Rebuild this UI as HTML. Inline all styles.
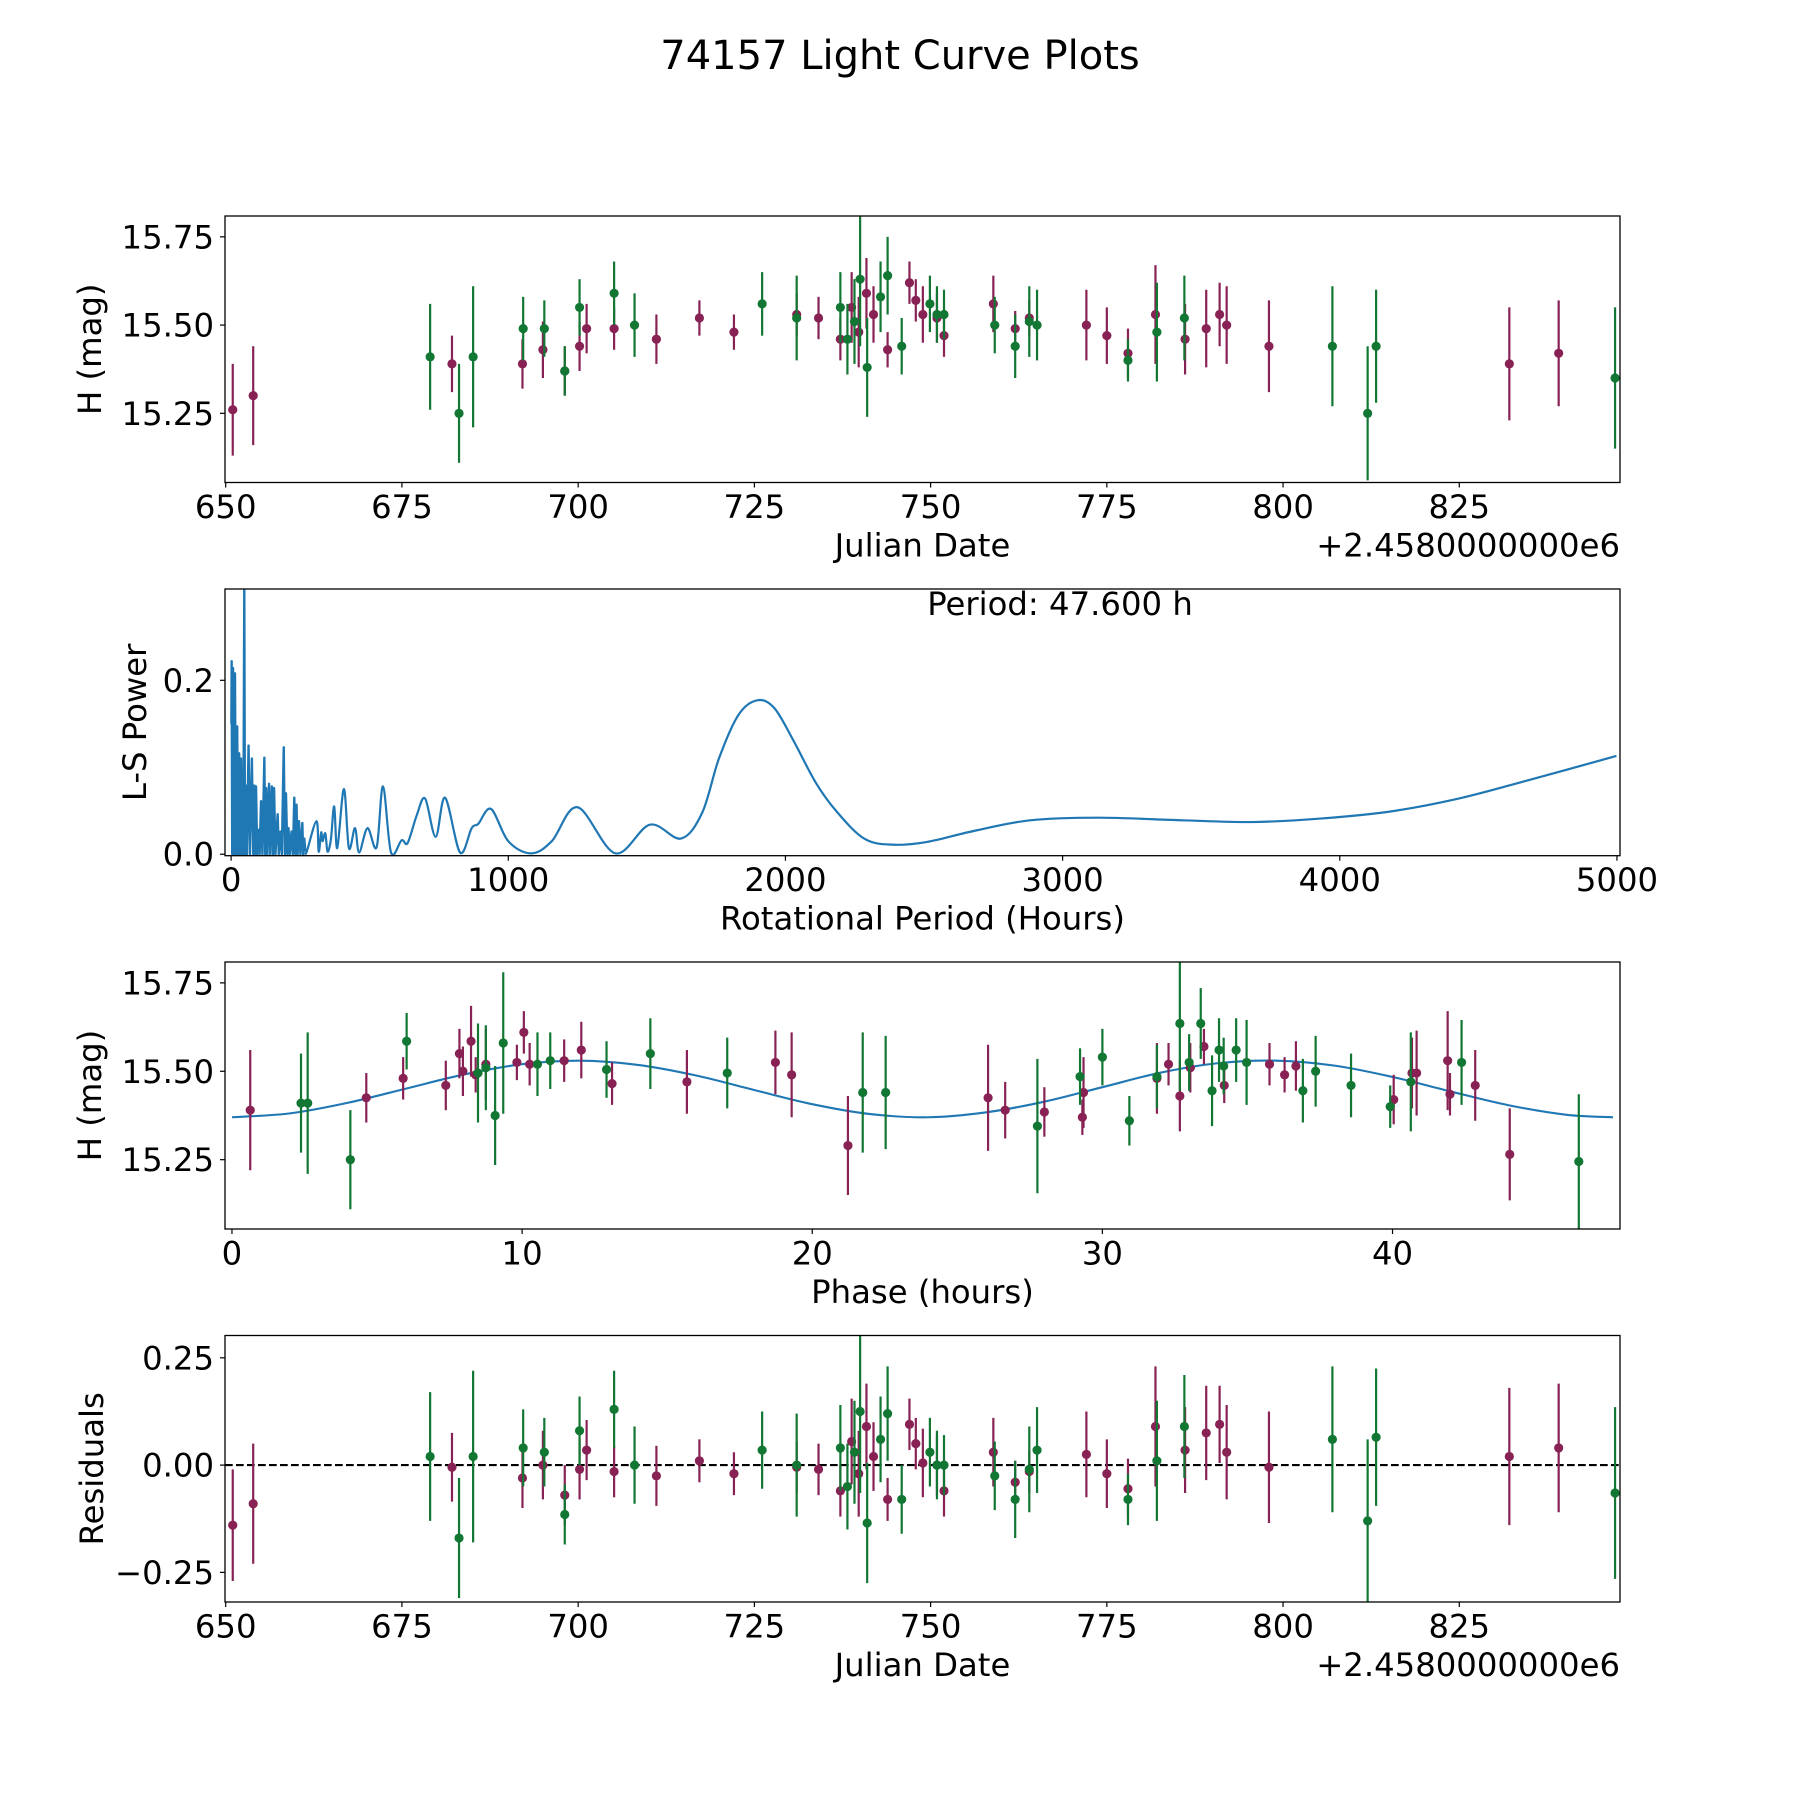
<!DOCTYPE html>
<html><head><meta charset="utf-8"><title>74157 Light Curve Plots</title>
<style>html,body{margin:0;padding:0;background:#fff}svg{display:block}text{font-family:"DejaVu Sans","Liberation Sans",sans-serif;fill:#000}</style>
</head><body>
<svg id="fig" xmlns="http://www.w3.org/2000/svg" width="1800" height="1800" viewBox="0 0 1800 1800">
<rect x="0" y="0" width="1800" height="1800" fill="#fff"/>
<text x="900" y="69" font-size="40" text-anchor="middle">74157 Light Curve Plots</text>
</svg>
<script>
// ---- light curve data (Julian date offset from 2458000) ----
const mDates=[651.0,653.9,682.1,692.1,695.0,698.1,700.2,701.2,705.1,711.1,717.2,722.1,731.0,734.1,737.2,738.8,739.8,740.9,741.9,743.9,747.0,747.9,748.9,750.9,751.9,758.9,762.0,764.0,772.1,775.0,778.0,781.9,786.1,789.1,791.0,792.0,798.0,832.1,839.1];
const mMag=[15.26,15.30,15.39,15.39,15.43,15.37,15.44,15.49,15.49,15.46,15.52,15.48,15.53,15.52,15.46,15.55,15.48,15.59,15.53,15.43,15.62,15.57,15.53,15.52,15.47,15.56,15.49,15.52,15.50,15.47,15.42,15.53,15.46,15.49,15.53,15.50,15.44,15.39,15.42];
const mErr=[0.13,0.14,0.08,0.07,0.08,0.07,0.07,0.07,0.06,0.07,0.05,0.05,0.06,0.06,0.06,0.10,0.10,0.10,0.08,0.05,0.06,0.06,0.08,0.07,0.06,0.08,0.05,0.05,0.10,0.08,0.07,0.14,0.10,0.11,0.09,0.11,0.13,0.16,0.15];
const mResid=[-0.14,-0.09,-0.005,-0.03,0.0,-0.07,-0.01,0.035,-0.015,-0.025,0.01,-0.02,-0.005,-0.01,-0.06,0.055,-0.02,0.09,0.02,-0.08,0.095,0.05,0.005,0.0,-0.06,0.03,-0.04,-0.015,0.025,-0.02,-0.055,0.09,0.035,0.075,0.095,0.03,-0.005,0.02,0.04];
const gDates=[679.0,683.1,685.1,692.2,695.2,698.1,700.2,705.1,708.0,726.1,731.0,737.2,738.2,739.2,740.0,741.0,742.9,743.9,745.9,749.9,750.9,751.9,759.1,762.0,764.0,765.1,778.0,782.1,786.0,807.0,812.0,813.2,847.1];
const gMag=[15.41,15.25,15.41,15.49,15.49,15.37,15.55,15.59,15.50,15.56,15.52,15.55,15.46,15.51,15.63,15.38,15.58,15.64,15.44,15.56,15.53,15.53,15.50,15.44,15.51,15.50,15.40,15.48,15.52,15.44,15.25,15.44,15.35];
const gErr=[0.15,0.14,0.20,0.09,0.08,0.07,0.08,0.09,0.09,0.09,0.12,0.10,0.10,0.12,0.19,0.14,0.10,0.11,0.08,0.08,0.08,0.07,0.08,0.09,0.10,0.10,0.06,0.14,0.12,0.17,0.19,0.16,0.20];
const gResid=[0.02,-0.17,0.02,0.04,0.03,-0.115,0.08,0.13,0.0,0.035,0.0,0.04,-0.05,0.03,0.125,-0.135,0.06,0.12,-0.08,0.03,0.0,0.0,-0.025,-0.08,-0.01,0.035,-0.08,0.01,0.09,0.06,-0.13,0.065,-0.065];
// ---- phase-folded data ----
const pmPhase=[0.63,4.63,5.9,7.37,7.84,7.96,8.24,8.4,8.75,9.82,10.06,10.26,11.45,12.04,13.1,15.68,18.73,19.29,21.23,26.06,26.65,28.0,29.31,29.35,31.88,32.28,32.67,33.03,33.5,34.2,35.76,36.28,36.67,40.04,40.67,40.83,41.9,41.98,42.85,44.04];
const pmMag=[15.39,15.425,15.48,15.46,15.55,15.50,15.585,15.49,15.52,15.525,15.61,15.52,15.53,15.56,15.465,15.47,15.525,15.49,15.29,15.425,15.39,15.385,15.37,15.44,15.48,15.52,15.43,15.51,15.57,15.46,15.52,15.49,15.515,15.42,15.495,15.495,15.53,15.435,15.46,15.265];
const pmErr=[0.17,0.07,0.06,0.07,0.07,0.07,0.1,0.05,0.1,0.05,0.06,0.06,0.06,0.08,0.06,0.09,0.09,0.12,0.14,0.15,0.08,0.07,0.05,0.1,0.1,0.06,0.1,0.07,0.05,0.05,0.06,0.05,0.07,0.07,0.1,0.12,0.14,0.06,0.1,0.13];
const pgPhase=[2.38,2.61,4.08,6.02,8.48,8.75,9.07,9.35,10.53,10.97,12.91,14.42,17.07,21.74,22.53,27.76,29.23,30.0,30.93,31.88,32.67,32.99,33.39,33.78,34.02,34.18,34.61,34.97,36.91,37.35,38.57,39.92,40.63,42.38,46.42];
const pgMag=[15.41,15.41,15.25,15.585,15.495,15.51,15.375,15.58,15.52,15.53,15.505,15.55,15.495,15.44,15.44,15.345,15.485,15.54,15.36,15.485,15.635,15.525,15.635,15.445,15.56,15.515,15.56,15.525,15.445,15.50,15.46,15.40,15.47,15.525,15.245];
const pgErr=[0.14,0.2,0.14,0.08,0.14,0.12,0.14,0.2,0.09,0.08,0.08,0.1,0.1,0.17,0.16,0.19,0.08,0.08,0.07,0.09,0.19,0.08,0.1,0.1,0.09,0.08,0.09,0.12,0.09,0.1,0.09,0.06,0.14,0.12,0.19];
const modelPhase=[0,2,4,6,8,10,12,14,16,18,20,22,24,26,28,30,32,34,36,38,40,42,44,46,47.6];
const modelMag=[15.370,15.381,15.411,15.451,15.491,15.520,15.530,15.518,15.488,15.447,15.407,15.379,15.370,15.384,15.414,15.455,15.496,15.523,15.530,15.516,15.484,15.443,15.404,15.377,15.370];
// ---- periodogram ----
const lsNoisyPeriod=[1,2,4,7,9,14,17,22,25,29,32,36,39,41,44,47.6,50,53,57,63,68,75,80,84,87,90,94,99,103,108,113,120,123,127,131,137,141,147,151,155,160,168,172,178,183,190,194,198,203,207,212,218,223,228,232,236,240,245,250,257,260,264,268];
const lsNoisyPower=[0.15,0.222,0.0,0.214,0.0,0.208,0.0,0.147,0.0,0.116,0.0,0.110,0.0,0.079,0.0,0.304,0.0,0.079,0.0,0.125,0.0,0.110,0.0,0.079,0.0,0.078,0.0,0.028,0.0,0.061,0.0,0.111,0.0,0.076,0.0,0.081,0.0,0.078,0.0,0.076,0.0,0.046,0.0,0.026,0.0,0.123,0.0,0.070,0.0,0.030,0.0,0.026,0.0,0.065,0.0,0.057,0.0,0.038,0.0,0.036,0.0,0.018,0.003];
const lsSmoothPeriod=[268,273,308,316,325,330,340,348,360,372,383,407,425,447,462,492,525,548,577,615,637,670,700,738,772,826,868,892,938,1000,1082,1157,1250,1386,1511,1623,1700,1760,1830,1898,1960,2030,2110,2185,2284,2384,2509,2683,2883,3132,3432,3681,3930,4180,4429,4679,4998];
const lsSmoothPower=[0.003,0.003,0.038,0.003,0.025,0.015,0.024,0.003,0.017,0.055,0.007,0.075,0.007,0.03,0.002,0.03,0.008,0.078,0.002,0.016,0.013,0.045,0.064,0.02,0.065,0.002,0.03,0.035,0.052,0.015,0.001,0.015,0.054,0.001,0.034,0.018,0.048,0.110,0.160,0.177,0.168,0.130,0.082,0.049,0.018,0.011,0.014,0.027,0.039,0.042,0.039,0.037,0.041,0.049,0.064,0.085,0.113];
const lcTicks=[650,675,700,725,750,775,800,825];
const lcTickLabels=["650","675","700","725","750","775","800","825"];
const magTicks=[15.25,15.50,15.75];
const magTickLabels=["15.25","15.50","15.75"];
const lsXTicks=[0,1000,2000,3000,4000,5000];
const lsYTicks=[0.0,0.2];
const lsYTickLabels=["0.0","0.2"];
const phaseTicks=[0,10,20,30,40];
const residTicks=[-0.25,0,0.25];
const residTickLabels=["\u22120.25","0.00","0.25"];

const NS="http://www.w3.org/2000/svg";
const svg=document.getElementById('fig');
const MAROON="#882255",GREEN="#117733",BLUE="#1f77b4";
const X0=225,X1=1620,FS=32.3;
function el(tag,attrs,parent){const e=document.createElementNS(NS,tag);for(const k in attrs)e.setAttribute(k,attrs[k]);(parent||svg).appendChild(e);return e;}
let clipN=0;
function makePanel(name,top,bot,xmin,xmax,ymin,ymax){
  const g=el('g',{});
  
  
  const id='clip'+(clipN++);
  const cp=el('clipPath',{id:id},g);el('rect',{x:X0,y:top,width:X1-X0,height:bot-top},cp);
  const plot=el('g',{'clip-path':'url(#'+id+')'},g);
  
  
  const sx=v=>X0+(v-xmin)/(xmax-xmin)*(X1-X0);
  const sy=v=>bot-(v-ymin)/(ymax-ymin)*(bot-top);
  return {g,plot,sx,sy,top,bot,name};
}
function frame(p){
  const r=el('rect',{x:X0,y:p.top,width:X1-X0,height:p.bot-p.top,fill:'none',stroke:'#000','stroke-width':1.3},p.g);
  
  
}
function xTicks(p,vals,labels){
  vals.forEach((v,i)=>{const x=p.sx(v);
    const t=el('line',{x1:x,x2:x,y1:p.bot,y2:p.bot+5,stroke:'#000','stroke-width':1.2},p.g);
    
    
    const tx=el('text',{x:x,y:p.bot+35.5,'font-size':FS,'text-anchor':'middle'},p.g);tx.textContent=labels[i];
    
    });
}
function yTicks(p,vals,labels){
  vals.forEach((v,i)=>{const y=p.sy(v);
    const t=el('line',{x1:X0-5,x2:X0,y1:y,y2:y,stroke:'#000','stroke-width':1.2},p.g);
    
    
    const tx=el('text',{x:214,y:y+11.5,'font-size':FS,'text-anchor':'end'},p.g);tx.textContent=labels[i];
    
    });
}
function xLabel(p,txt,offset){
  const t=el('text',{x:(X0+X1)/2,y:p.bot+74,'font-size':FS,'text-anchor':'middle'},p.g);t.textContent=txt;
  
  
  if(offset){const o=el('text',{x:X1,y:p.bot+74,'font-size':FS,'text-anchor':'end'},p.g);o.textContent=offset;
    
    }
}
function yLabel(p,txt,bx){
  const cy=(p.top+p.bot)/2;
  const t=el('text',{x:bx,y:cy,'font-size':FS,'text-anchor':'middle',transform:'rotate(-90 '+bx+' '+cy+')'},p.g);t.textContent=txt;
  
  
}
function errorPoints(p,xs,ys,es,color,label){
  xs.forEach((xv,i)=>{const x=p.sx(xv);
    const l=el('line',{x1:x,x2:x,y1:p.sy(ys[i]-es[i]),y2:p.sy(ys[i]+es[i]),stroke:color,'stroke-width':2.2},p.plot);
    
    
    const c=el('circle',{cx:x,cy:p.sy(ys[i]),r:4.6,fill:color},p.plot);
    
    });
}
function smoothPath(pts){
  let d='M'+pts[0][0]+','+pts[0][1];
  for(let i=0;i<pts.length-1;i++){
    const p0=pts[Math.max(0,i-1)],p1=pts[i],p2=pts[i+1],p3=pts[Math.min(pts.length-1,i+2)];
    const c1=[p1[0]+(p2[0]-p0[0])/6,p1[1]+(p2[1]-p0[1])/6],c2=[p2[0]-(p3[0]-p1[0])/6,p2[1]-(p3[1]-p1[1])/6];
    d+=' C'+c1.join(',')+' '+c2.join(',')+' '+p2.join(',');
  }
  return d;
}

// ---- Panel 1: light curve ----
const p1=makePanel('light-curve-panel',216,482.5,649.9,847.8,15.054,15.809);
errorPoints(p1,mDates,mMag,mErr,MAROON,'filter-1');
errorPoints(p1,gDates,gMag,gErr,GREEN,'filter-2');
frame(p1);xTicks(p1,lcTicks,lcTickLabels);yTicks(p1,magTicks,magTickLabels);
xLabel(p1,'Julian Date','+2.4580000000e6');yLabel(p1,'H (mag)',101);

// ---- Panel 2: periodogram ----
const p2=makePanel('periodogram-panel',589,855.7,-22,5011,-0.0017,0.305);
const nPts=lsNoisyPeriod.map((v,i)=>[p2.sx(v),p2.sy(lsNoisyPower[i])]);
const lsN=el('polyline',{points:nPts.map(a=>a.join(',')).join(' '),fill:'none',stroke:BLUE,'stroke-width':2.4,'stroke-linejoin':'round'},p2.plot);


const sPts=lsSmoothPeriod.map((v,i)=>[p2.sx(v),p2.sy(lsSmoothPower[i])]);
const lsS=el('path',{d:smoothPath(sPts),fill:'none',stroke:BLUE,'stroke-width':2.2},p2.plot);


frame(p2);xTicks(p2,lsXTicks,lsXTicks.map(String));yTicks(p2,lsYTicks,lsYTickLabels);
xLabel(p2,'Rotational Period (Hours)');yLabel(p2,'L-S Power',146);
const pt=el('text',{x:1060,y:615,'font-size':FS,'text-anchor':'middle'},p2.g);pt.textContent='Period: 47.600 h';



// ---- Panel 3: phase folded ----
const p3=makePanel('phase-panel',962,1229,-0.24,47.84,15.054,15.809);
const mPts=modelPhase.map((v,i)=>[p3.sx(v),p3.sy(modelMag[i])]);
const mod=el('path',{d:smoothPath(mPts),fill:'none',stroke:BLUE,'stroke-width':2.1},p3.plot);


errorPoints(p3,pmPhase,pmMag,pmErr,MAROON,'phase-filter-1');
errorPoints(p3,pgPhase,pgMag,pgErr,GREEN,'phase-filter-2');
frame(p3);xTicks(p3,phaseTicks,phaseTicks.map(String));yTicks(p3,magTicks,magTickLabels);
xLabel(p3,'Phase (hours)');yLabel(p3,'H (mag)',101);

// ---- Panel 4: residuals ----
const p4=makePanel('residuals-panel',1335.5,1602,649.9,847.8,-0.319,0.302);
const zl=el('line',{x1:X0,x2:X1,y1:p4.sy(0),y2:p4.sy(0),stroke:'#000','stroke-width':2.1,'stroke-dasharray':'7.7 3.3'},p4.plot);


errorPoints(p4,mDates,mResid,mErr,MAROON,'resid-filter-1');
errorPoints(p4,gDates,gResid,gErr,GREEN,'resid-filter-2');
frame(p4);xTicks(p4,lcTicks,lcTickLabels);yTicks(p4,residTicks,residTickLabels);
xLabel(p4,'Julian Date','+2.4580000000e6');yLabel(p4,'Residuals',103);
</script>
</body></html>
